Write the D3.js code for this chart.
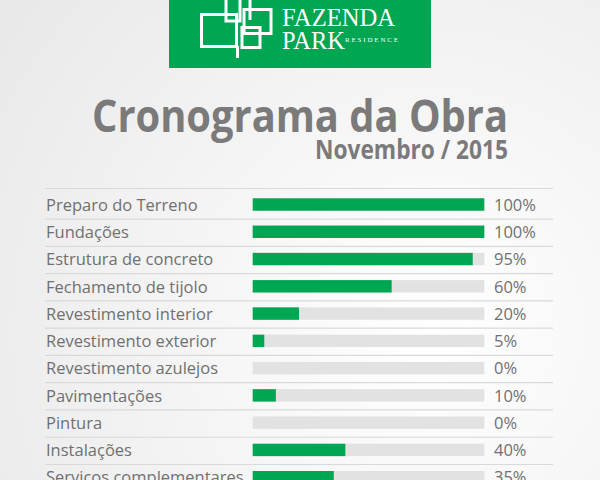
<!DOCTYPE html>
<html><head><meta charset="utf-8">
<script src="https://cdn.jsdelivr.net/npm/d3@7"></script>
<style>html,body{margin:0;padding:0;overflow:hidden;background:#f2f2f2}</style>
</head><body>
<script>
const categories = ["Preparo do Terreno","Fundações","Estrutura de concreto","Fechamento de tijolo","Revestimento interior","Revestimento exterior","Revestimento azulejos","Pavimentações","Pintura","Instalações","Serviços complementares"];
const values = [100,100,95,60,20,5,0,10,0,40,35];
const valueLabels = values.map(v => v + "%");
const title = "Cronograma da Obra";
const subtitle = "Novembro / 2015";

const W = 600, H = 480;
const svg = d3.select("body").append("svg").attr("width", W).attr("height", H);
const defs = svg.append("defs");
const rg = defs.append("radialGradient").attr("id","bg").attr("gradientUnits","userSpaceOnUse")
  .attr("cx",430).attr("cy",330).attr("r",520);
rg.append("stop").attr("offset","0").attr("stop-color","#ffffff");
rg.append("stop").attr("offset","1").attr("stop-color","#e9e9e9");
svg.append("rect").attr("width",W).attr("height",H).attr("fill","url(#bg)");

// header logo
svg.append("rect").attr("x",169).attr("y",0).attr("width",262).attr("height",68).attr("fill","#00a651");
const logo = svg.append("g").attr("fill","none").attr("stroke","#fff").attr("stroke-width",3);
[[201.5,14.5,35,32],[226,-5,14,26],[244,9.5,27,24],[242,27.5,18,20]].forEach(r=>{
  logo.append("rect").attr("x",r[0]).attr("y",r[1]).attr("width",r[2]).attr("height",r[3]);
});
logo.append("line").attr("x1",250).attr("y1",0).attr("x2",250).attr("y2",20);
logo.append("line").attr("x1",237.5).attr("y1",46).attr("x2",237.5).attr("y2",58);
svg.append("text").attr("x",282).attr("y",25.5).attr("font-family","Liberation Serif, serif").attr("font-size",26)
  .attr("fill","#fff").attr("textLength",113).attr("lengthAdjust","spacingAndGlyphs").text("FAZENDA");
svg.append("text").attr("x",282).attr("y",48.5).attr("font-family","Liberation Serif, serif").attr("font-size",25)
  .attr("fill","#fff").attr("textLength",63).attr("lengthAdjust","spacingAndGlyphs").text("PARK");
svg.append("text").attr("x",345).attr("y",42).attr("font-family","Liberation Serif, serif").attr("font-size",7)
  .attr("fill","#fff").attr("textLength",53).attr("lengthAdjust","spacing").text("RESIDENCE");

// titles
svg.append("text").attr("x",92).attr("y",131.5).attr("font-family","Open Sans, sans-serif").attr("font-weight",700)
  .attr("font-size",45).attr("fill","#7a7a7a").attr("textLength",416).attr("lengthAdjust","spacingAndGlyphs").text(title);
svg.append("text").attr("x",315).attr("y",159).attr("font-family","Open Sans, sans-serif").attr("font-weight",700)
  .attr("font-size",26).attr("fill","#7a7a7a").attr("textLength",193).attr("lengthAdjust","spacingAndGlyphs").text(subtitle);

// chart
const step = 27.27;
const y = d3.scaleBand().domain(categories).range([192.3, 192.3 + step*categories.length]).padding(0);
const x = d3.scaleLinear().domain([0,100]).range([252.7, 484.3]);

svg.append("line").attr("x1",45).attr("x2",553).attr("y1",188.5).attr("y2",188.5).attr("stroke","#d9d9d9").attr("stroke-width",1.2);

const rows = svg.append("g").selectAll("g").data(categories).join("g")
  .attr("transform", d => `translate(0,${y(d)})`);
rows.append("line").attr("x1",45).attr("x2",553).attr("y1",y.bandwidth()-0.5).attr("y2",y.bandwidth()-0.5)
  .attr("stroke","#d9d9d9").attr("stroke-width",1.2);
rows.append("rect").attr("x",x(0)).attr("y",6).attr("width",x(100)-x(0)).attr("height",12.4).attr("fill","#e2e2e2");
rows.append("rect").attr("x",x(0)).attr("y",6).attr("width",(d,i)=>x(values[i])-x(0)).attr("height",12.4).attr("fill","#00a651");
rows.append("text").attr("x",46).attr("y",18.4).attr("font-family","Open Sans, sans-serif").attr("font-size",16.5)
  .attr("fill","#707070").text(d=>d);
rows.append("text").attr("x",494).attr("y",18.4).attr("font-family","Open Sans, sans-serif").attr("font-size",16.5)
  .attr("fill","#707070").text((d,i)=>valueLabels[i]);
</script>
</body></html>
